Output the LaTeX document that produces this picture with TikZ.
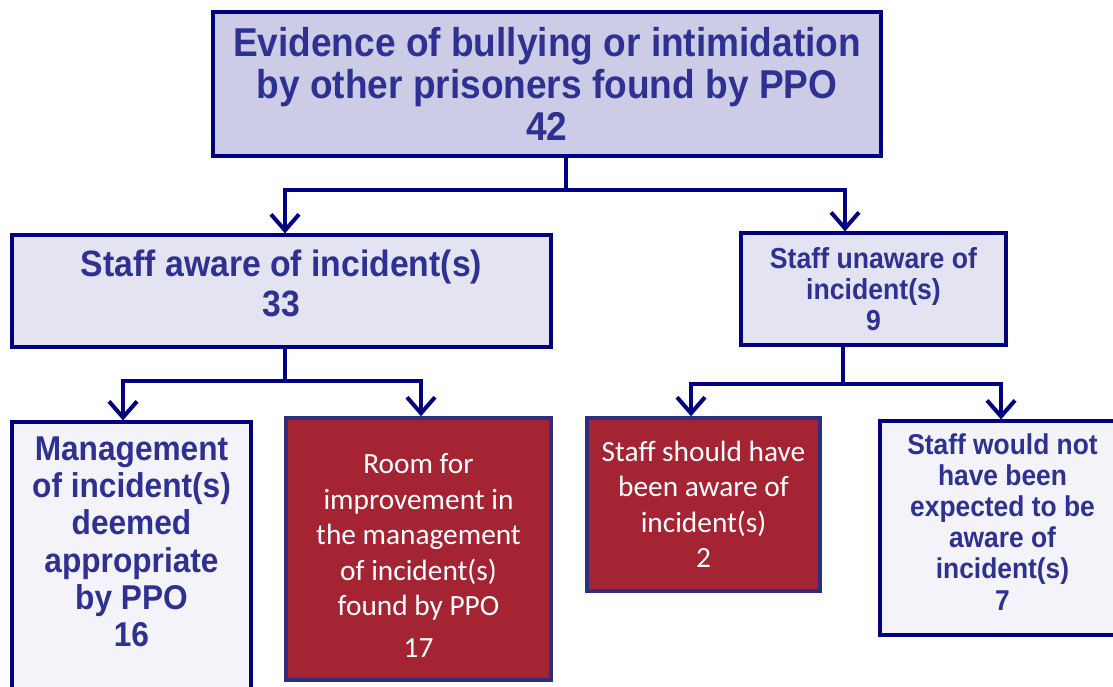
\documentclass[tikz,border=0pt]{standalone}
\usepackage{fontspec}
\usetikzlibrary{arrows.meta}

\newfontfamily\chartfont{Liberation Sans}[FakeStretch=0.92]
\newfontfamily\plainfont{Carlito}
\newcommand{\vpad}[1]{\rule[-#1]{0pt}{#1}}

\definecolor{navy}{RGB}{0,0,128}
\definecolor{inkblue}{RGB}{46,49,146}
\definecolor{topfill}{RGB}{204,204,230}
\definecolor{midfill}{RGB}{227,227,241}
\definecolor{lowfill}{RGB}{243,243,249}
\definecolor{redfill}{RGB}{165,36,52}
\definecolor{redline}{RGB}{46,46,126}

\tikzset{
    box/.style={draw=navy, line width=2.4pt, inner sep=0pt, align=center,
        text=inkblue, font=\chartfont\bfseries},
    redbox/.style={draw=redline, line width=2.6pt, fill=redfill, inner sep=0pt,
        align=center, text=white},
    link/.style={draw=navy, line width=3pt, line join=miter,
        arrows={Straight Barb[length=12pt,width=21pt]-Straight Barb[length=12pt,width=21pt]}}
}

\begin{document}
\begin{tikzpicture}[x=0.75pt,y=-0.75pt]

    \useasboundingbox (0,0) rectangle (1113,686);

    \node[box, fill=topfill, line width=3pt, minimum width=501pt, minimum height=108pt,
        font=\chartfont\bfseries\fontsize{30.2}{31.5}\selectfont] (top) at (547,84)
        {Evidence of bullying or intimidation\\by other prisoners found by PPO\\42};

    \node[box, fill=midfill, minimum width=404.25pt, minimum height=84pt,
        font=\chartfont\bfseries\fontsize{27.5}{30}\selectfont] (aware) at (281.5,291)
        {Staff aware of incident(s)\\33\vpad{12pt}};
    \node[box, fill=midfill, minimum width=198.75pt, minimum height=84pt,
        font=\chartfont\bfseries\fontsize{21.7}{23.3}\selectfont] (unaware) at (873.5,289)
        {Staff unaware of\\incident(s)\\9};

    \node[box, fill=lowfill, minimum width=179.25pt, minimum height=223.5pt,
        font=\chartfont\bfseries\fontsize{25.8}{28}\selectfont] (approp) at (131.5,571)
        {Management\\of incident(s)\\deemed\\appropriate\\by PPO\\16\vpad{44pt}};
    \node[redbox, minimum width=198.75pt, minimum height=196.5pt,
        font=\plainfont\fontsize{22}{26.6}\selectfont] (improve) at (418.5,549)
        {\rule{0pt}{25pt}Room for\\improvement in\\the management\\of incident(s)\\found by PPO\\[5pt]17};
    \node[redbox, minimum width=174.75pt, minimum height=129.75pt,
        font=\plainfont\fontsize{22}{26.6}\selectfont] (should) at (703.5,504.5)
        {Staff should have\\been aware of\\incident(s)\\2};
    \node[box, fill=lowfill, minimum width=183.75pt, minimum height=160.5pt,
        font=\chartfont\bfseries\fontsize{21.5}{23.3}\selectfont] (wouldnot) at (1002.5,528)
        {Staff would not\\have been\\expected to be\\aware of\\incident(s)\\7\vpad{9pt}};

    \coordinate (j1) at (566,190);
    \coordinate (j1l) at (285,190);
    \coordinate (j1r) at (845,190);
    \coordinate (j2) at (285,381);
    \coordinate (j2l) at (123,381);
    \coordinate (j2r) at (421,381);
    \coordinate (j3) at (843,384);
    \coordinate (j3l) at (691,384);
    \coordinate (j3r) at (1001,384);

    \draw[link, arrows=-] (j1 |- top.south) -- (j1);
    \draw[link] (j1l |- aware.north) -- (j1l) -- (j1r) -- (j1r |- unaware.north);

    \draw[link, arrows=-] (j2 |- aware.south) -- (j2);
    \draw[link] (j2l |- approp.north) -- (j2l) -- (j2r) -- (j2r |- improve.north);

    \draw[link, arrows=-] (j3 |- unaware.south) -- (j3);
    \draw[link] (j3l |- should.north) -- (j3l) -- (j3r) -- (j3r |- wouldnot.north);
\end{tikzpicture}
\end{document}
